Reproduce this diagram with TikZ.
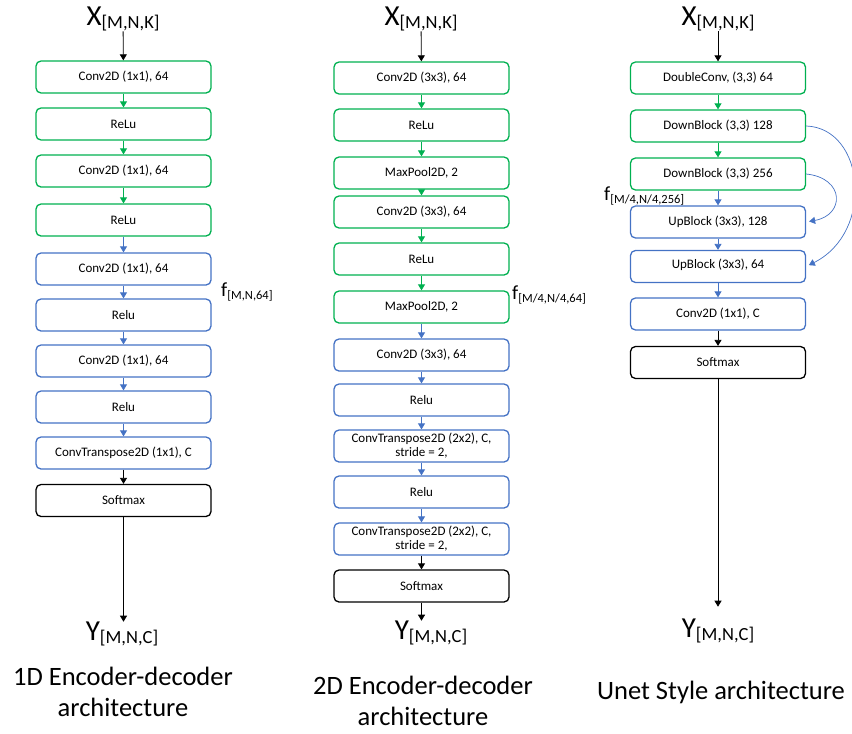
\documentclass[tikz,border=0pt]{standalone}
\usepackage{fontspec}
\setmainfont{Carlito}
\usetikzlibrary{arrows.meta}
\definecolor{gr}{RGB}{0,176,80}
\definecolor{bl}{RGB}{68,114,196}
\newcommand{\lbl}[2]{{\fontsize{29}{30}\selectfont #1}\raisebox{-0.3em}{\fontsize{18.5}{20}\selectfont #2}}
\newcommand{\flbl}[1]{{\fontsize{20}{22}\selectfont f}\raisebox{-0.3em}{\fontsize{12.5}{15}\selectfont #1}}
\begin{document}
\begin{tikzpicture}[x=1pt,y=-1pt,
  box/.style={draw, rounded corners=5pt, line width=1.3pt, minimum width=175pt, minimum height=32pt,
    font=\fontsize{13}{14}\selectfont, align=center, inner sep=1pt},
  gbox/.style={box, draw=gr},
  bbox/.style={box, draw=bl},
  kbox/.style={box, draw=black},
  arr/.style={-{Triangle[width=7pt,length=6pt]}, line width=0.8pt},
  io/.style={inner sep=0pt, anchor=center},
  captxt/.style={font=\fontsize{26.5}{31}\selectfont, align=center, inner sep=0pt}
]
\useasboundingbox (0,0) rectangle (852,734);

% ---------- Column 1 ----------
\node[io] (x1) at (123,19) {\lbl{X}{[M,N,K]}};
\node[gbox] (a1) at (123.5,77) {Conv2D (1x1), 64};
\node[gbox] (a2) at (123.5,124) {ReLu};
\node[gbox] (a3) at (123.5,171) {Conv2D (1x1), 64};
\node[gbox] (a4) at (123.5,220) {ReLu};
\node[bbox] (a5) at (123.5,269) {Conv2D (1x1), 64};
\node[bbox] (a6) at (123.5,315) {Relu};
\node[bbox] (a7) at (123.5,361) {Conv2D (1x1), 64};
\node[bbox] (a8) at (123.5,407) {Relu};
\node[bbox] (a9) at (123.5,453) {ConvTranspose2D (1x1), C};
\node[kbox] (a10) at (123.5,500.5) {Softmax};
\node[io] (y1) at (122,634) {\lbl{Y}{[M,N,C]}};
\node[io, anchor=west] (f1) at (221,292) {\flbl{[M,N,64]}};
\node[captxt] (c1) at (123,692) {1D Encoder-decoder\\architecture};

\draw[arr] (x1) -- (a1);
\draw[arr, gr] (a1) -- (a2);
\draw[arr, gr] (a2) -- (a3);
\draw[arr, gr] (a3) -- (a4);
\draw[arr, bl] (a4) -- (a5);
\draw[arr, bl] (a5) -- (a6);
\draw[arr, bl] (a6) -- (a7);
\draw[arr, bl] (a7) -- (a8);
\draw[arr, bl] (a8) -- (a9);
\draw[arr] (a9) -- (a10);
\draw[arr] (a10.south) -- (a10.south |- y1.north);

% ---------- Column 2 ----------
\node[io] (x2) at (421,19) {\lbl{X}{[M,N,K]}};
\node[gbox] (b1) at (421.5,78) {Conv2D (3x3), 64};
\node[gbox] (b2) at (421.5,125) {ReLu};
\node[gbox] (b3) at (421.5,173) {MaxPool2D, 2};
\node[gbox] (b4) at (421.5,212) {Conv2D (3x3), 64};
\node[gbox] (b5) at (421.5,259) {ReLu};
\node[gbox] (b6) at (421.5,307) {MaxPool2D, 2};
\node[bbox] (b7) at (421.5,355) {Conv2D (3x3), 64};
\node[bbox] (b8) at (421.5,400) {Relu};
\node[bbox] (b9) at (421.5,446) {ConvTranspose2D (2x2), C,\\stride = 2,};
\node[bbox] (b10) at (421.5,492) {Relu};
\node[bbox] (b11) at (421.5,539) {ConvTranspose2D (2x2), C,\\stride = 2,};
\node[kbox] (b12) at (421.5,586) {Softmax};
\node[io] (y2) at (431,633) {\lbl{Y}{[M,N,C]}};
\node[io, anchor=west] (f2) at (512,295) {\flbl{[M/4,N/4,64]}};
\node[captxt] (c2) at (423,701) {2D Encoder-decoder\\architecture};

\draw[arr] (x2) -- (b1);
\draw[arr, gr] (b1) -- (b2);
\draw[arr, gr] (b2) -- (b3);
\draw[arr, gr] (b3) -- (b4);
\draw[arr, gr] (b4) -- (b5);
\draw[arr, gr] (b5) -- (b6);
\draw[arr, bl] (b6) -- (b7);
\draw[arr, bl] (b7) -- (b8);
\draw[arr, bl] (b8) -- (b9);
\draw[arr, bl] (b9) -- (b10);
\draw[arr, bl] (b10) -- (b11);
\draw[arr] (b11) -- (b12);
\draw[arr] (b12.south) -- (b12.south |- y2.north);

% ---------- Column 3 ----------
\node[io] (x3) at (718,19) {\lbl{X}{[M,N,K]}};
\node[gbox] (d1) at (718,78) {DoubleConv, (3,3) 64};
\node[gbox] (d2) at (718,126) {DownBlock (3,3) 128};
\node[gbox] (d3) at (718,174) {DownBlock (3,3) 256};
\node[bbox] (u1) at (718,222) {UpBlock (3x3), 128};
\node[bbox, text depth=6pt] (u2) at (718,266.5) {UpBlock (3x3), 64};
\node[bbox] (e1) at (718,314) {Conv2D (1x1), C};
\node[kbox] (s3) at (718,362.5) {Softmax};
\node[io] (y3) at (718,631) {\lbl{Y}{[M,N,C]}};
\node[io, anchor=west] (f3) at (604,196) {\flbl{[M/4,N/4,256]}};
\node[captxt] (c3) at (721,692) {Unet Style architecture};

\draw[arr] (x3) -- (d1);
\draw[arr, gr] (d1) -- (d2);
\draw[arr, gr] (d2) -- (d3);
\draw[arr, bl] (d3) -- (u1);
\draw[arr, bl] (u1) -- (u2);
\draw[arr, bl] (u2) -- (e1);
\draw[arr] (e1) -- (s3);
\draw[arr, shorten >=12pt] (s3) -- (y3);

\draw[arr, bl, line width=0.7pt, shorten >=3pt] (d3.east) .. controls (845,178) and (845,215) .. (u1.east);
\draw[arr, bl, line width=0.7pt, shorten >=3pt] (d2.east) .. controls (865,128) and (875,232) .. (u2.east);
\end{tikzpicture}
\end{document}
